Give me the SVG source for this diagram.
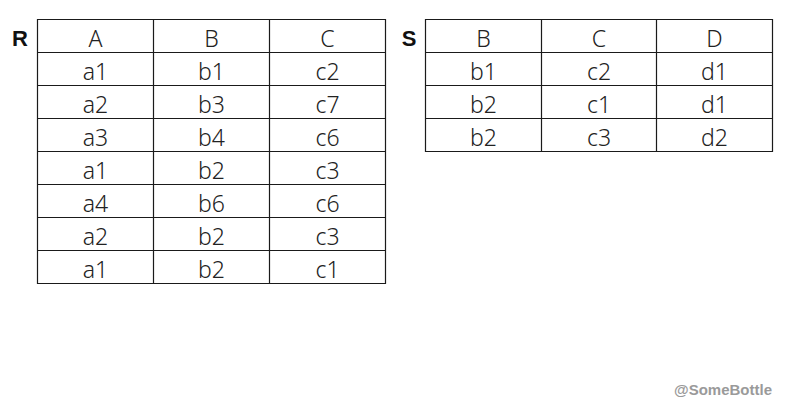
<svg xmlns="http://www.w3.org/2000/svg" width="787" height="409" viewBox="0 0 787 409">
<style>
.grid{stroke:#1a1a1a;stroke-width:1.2;fill:none}
.cell{font-family:"Noto Sans","Liberation Sans",sans-serif;font-weight:300;font-size:23px;fill:#222;text-anchor:middle}
.lbl{font-family:"Liberation Sans",Arial,sans-serif;font-weight:bold;font-size:22px;fill:#111;text-anchor:middle}
.wm{font-family:"Liberation Sans",Arial,sans-serif;font-weight:bold;font-size:15px;fill:#9a9a9a;text-anchor:end}
</style>
<rect width="787" height="409" fill="#fff"/>
<g id="tableR">
<text class="lbl" x="20" y="46">R</text>
<path class="grid" d="M37.5 19.5H385.5V283.5H37.5Z M153.5 19.5V283.5 M269.5 19.5V283.5 M37.5 52.5H385.5 M37.5 85.5H385.5 M37.5 118.5H385.5 M37.5 151.5H385.5 M37.5 184.5H385.5 M37.5 217.5H385.5 M37.5 250.5H385.5"/>
<text class="cell" x="95.5" y="47">A</text><text class="cell" x="211.5" y="47">B</text><text class="cell" x="327.5" y="47">C</text>
<text class="cell" x="95.5" y="80">a1</text><text class="cell" x="211.5" y="80">b1</text><text class="cell" x="327.5" y="80">c2</text>
<text class="cell" x="95.5" y="113">a2</text><text class="cell" x="211.5" y="113">b3</text><text class="cell" x="327.5" y="113">c7</text>
<text class="cell" x="95.5" y="146">a3</text><text class="cell" x="211.5" y="146">b4</text><text class="cell" x="327.5" y="146">c6</text>
<text class="cell" x="95.5" y="179">a1</text><text class="cell" x="211.5" y="179">b2</text><text class="cell" x="327.5" y="179">c3</text>
<text class="cell" x="95.5" y="212">a4</text><text class="cell" x="211.5" y="212">b6</text><text class="cell" x="327.5" y="212">c6</text>
<text class="cell" x="95.5" y="245">a2</text><text class="cell" x="211.5" y="245">b2</text><text class="cell" x="327.5" y="245">c3</text>
<text class="cell" x="95.5" y="278">a1</text><text class="cell" x="211.5" y="278">b2</text><text class="cell" x="327.5" y="278">c1</text>
</g>
<g id="tableS">
<text class="lbl" x="409" y="46">S</text>
<path class="grid" d="M425.5 19.5H772.5V151.5H425.5Z M541.5 19.5V151.5 M656.5 19.5V151.5 M425.5 52.5H772.5 M425.5 85.5H772.5 M425.5 118.5H772.5"/>
<text class="cell" x="483.5" y="47">B</text><text class="cell" x="599" y="47">C</text><text class="cell" x="714.5" y="47">D</text>
<text class="cell" x="483.5" y="80">b1</text><text class="cell" x="599" y="80">c2</text><text class="cell" x="714.5" y="80">d1</text>
<text class="cell" x="483.5" y="113">b2</text><text class="cell" x="599" y="113">c1</text><text class="cell" x="714.5" y="113">d1</text>
<text class="cell" x="483.5" y="146">b2</text><text class="cell" x="599" y="146">c3</text><text class="cell" x="714.5" y="146">d2</text>
</g>
<text class="wm" x="772" y="395">@SomeBottle</text>
</svg>
